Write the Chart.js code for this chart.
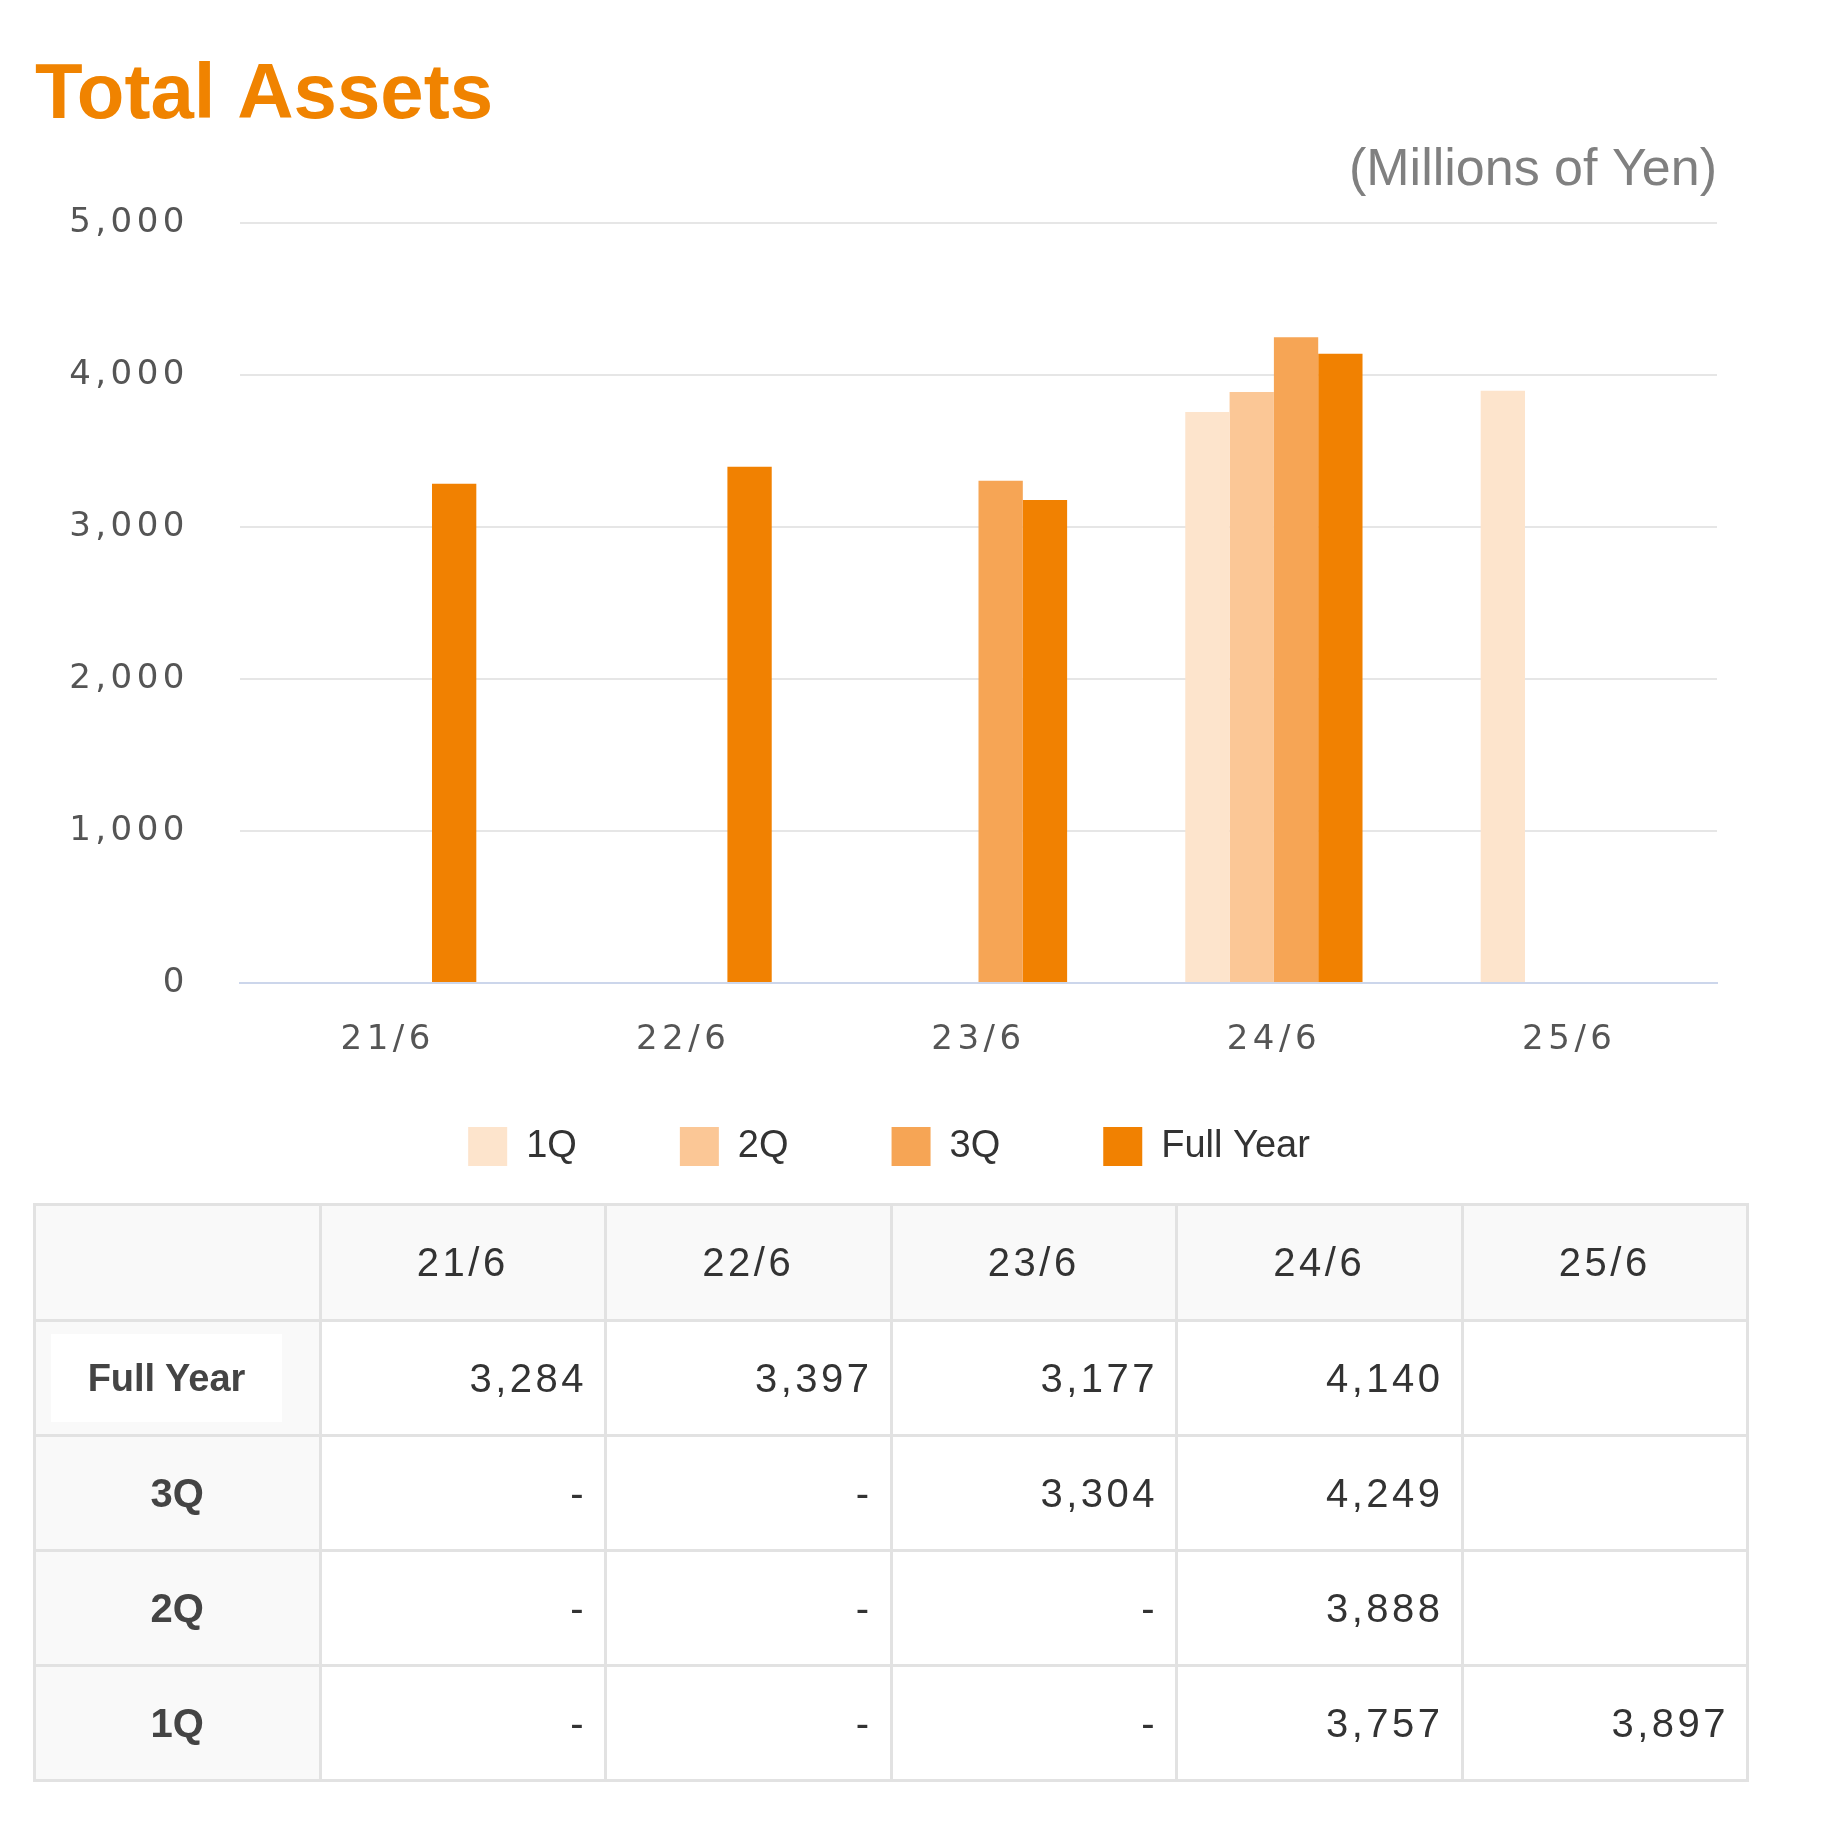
<!DOCTYPE html>
<html>
<head>
<meta charset="utf-8">
<script src="https://cdn.jsdelivr.net/npm/chart.js@4.4.1/dist/chart.umd.min.js"></script>
<style>
html,body{margin:0;padding:0;background:#fff;}
#wrap{position:relative;width:1837px;height:1230px;}
table{position:relative;border-collapse:collapse;margin-left:33px;margin-top:-27px;width:1716px;table-layout:fixed;font-family:"Liberation Sans",Arial,sans-serif;color:#333;}
td,th{border:3px solid #e2e2e2;height:112px;padding:0;}
thead th{background:#f9f9f9;font-weight:normal;font-size:40px;letter-spacing:3.5px;text-align:center;height:113px;}
tbody th{background:#f9f9f9;font-weight:bold;font-size:40px;text-align:center;color:#444;}
tbody th.first{text-align:left;}
tbody td{background:#fff;text-align:right;padding-right:17px;font-size:40px;letter-spacing:3.5px;}
.lblbox{display:inline-block;background:#fff;width:231px;height:88px;line-height:88px;font-size:38px;text-align:center;margin-left:15px;}
</style>
</head>
<body>
<div id="wrap"><canvas id="c"></canvas></div>
<table id="tbl"></table>
<script>
const categories = ['21/6', '22/6', '23/6', '24/6', '25/6'];
const seriesNames = ['1Q', '2Q', '3Q', 'Full Year'];
const q1 = [null, null, null, 3757, 3897];
const q2 = [null, null, null, 3888, null];
const q3 = [null, null, 3304, 4249, null];
const fullYear = [3284, 3397, 3177, 4140, null];
const yTicks = [0, 1000, 2000, 3000, 4000, 5000];
const colors = ['#fde4cc', '#fbc796', '#f6a555', '#f18101'];
const seriesData = [q1, q2, q3, fullYear];

const tickSpacing = {
  id: 'tickSpacing',
  afterLayout(c) {
    // nudge legend row to match reference placement
    const lg = c.legend;
    if (lg) { lg.top -= 40; lg.bottom -= 40; lg.left += 13; lg.right += 13; }
  },
  afterDatasetsDraw(c) { c.ctx.letterSpacing = '4.5px'; },
  afterDraw(c) { c.ctx.letterSpacing = '0px'; }
};

new Chart(document.getElementById('c'), {
  type: 'bar',
  data: {
    labels: categories,
    datasets: seriesNames.map((n, i) => ({
      label: n,
      data: seriesData[i],
      backgroundColor: colors[i],
      borderWidth: 0,
      categoryPercentage: 0.6,
      barPercentage: 1.0
    }))
  },
  options: {
    responsive: true,
    maintainAspectRatio: false,
    animation: false,
    layout: { padding: { left: 35, right: 120, top: 0, bottom: 14 } },
    plugins: {
      title: {
        display: true, text: 'Total Assets', align: 'start', color: '#f08300',
        font: { size: 78, weight: 'bold', family: '"Liberation Sans", Arial, sans-serif' },
        padding: { top: 50, bottom: -4 }
      },
      subtitle: {
        display: true, text: '(Millions of Yen)', align: 'end', color: '#808080',
        font: { size: 52, family: '"Liberation Sans", Arial, sans-serif' },
        padding: { top: 0, bottom: 21 }
      },
      legend: {
        position: 'bottom',
        labels: {
          boxWidth: 39, boxHeight: 39, padding: 103, color: '#333',
          font: { size: 38, family: '"Liberation Sans", Arial, sans-serif' }
        }
      },
      tooltip: { enabled: false }
    },
    scales: {
      x: {
        grid: { display: false, drawTicks: false },
        border: { display: true, color: '#ccd6eb', width: 2 },
        ticks: { padding: 37, color: '#555', z: 1, font: { size: 34, family: '"DejaVu Sans", Verdana, sans-serif' } },
        afterFit(s) { s.height = 81; }
      },
      y: {
        min: 0, max: 5000,
        afterBuildTicks(s) { s.ticks = yTicks.map(v => ({ value: v })); },
        grid: { color: '#e6e6e6', lineWidth: 2, drawTicks: false },
        border: { display: false },
        ticks: {
          padding: 51, color: '#555', z: 1,
          font: { size: 34, family: '"DejaVu Sans", Verdana, sans-serif' },
          callback: v => Number(v).toLocaleString('en-US')
        },
        afterFit(s) { s.width = 205; }
      }
    }
  },
  plugins: [tickSpacing]
});

// Table
const tableRows = [['Full Year', fullYear], ['3Q', q3], ['2Q', q2], ['1Q', q1]];
const tbl = document.getElementById('tbl');
let html = '<thead><tr><th></th>' + categories.map(c => '<th>' + c + '</th>').join('') + '</tr></thead><tbody>';
tableRows.forEach(([name, arr], ri) => {
  const lbl = ri === 0 ? '<th class="first"><span class="lblbox">' + name + '</span></th>' : '<th>' + name + '</th>';
  html += '<tr>' + lbl + arr.map((v, i) => {
    let t;
    if (v === null) t = (i === categories.length - 1) ? '' : '-';
    else t = v.toLocaleString('en-US');
    return '<td>' + t + '</td>';
  }).join('') + '</tr>';
});
html += '</tbody>';
tbl.innerHTML = html;
</script>
</body>
</html>
